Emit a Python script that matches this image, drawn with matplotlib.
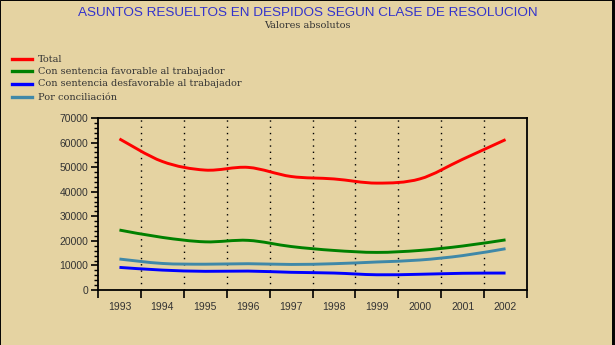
import numpy as np
import matplotlib.pyplot as plt
from matplotlib.path import Path
from matplotlib.patches import PathPatch
from matplotlib.ticker import MultipleLocator, FixedLocator, NullFormatter

# Datos (valores absolutos)
anios = ['1993', '1994', '1995', '1996', '1997', '1998', '1999', '2000', '2001', '2002']
total = [61500, 52300, 48800, 49900, 46200, 45200, 43500, 45200, 53200, 61200]
favorable = [24400, 21400, 19600, 20200, 17700, 16100, 15300, 16100, 17900, 20400]
desfavorable = [9200, 8100, 7600, 7700, 7200, 6900, 6200, 6400, 6800, 6900]
conciliacion = [12600, 10800, 10500, 10700, 10400, 10700, 11400, 12200, 14000, 16800]

series = [
    ('Total', total, '#ff0000'),
    ('Con sentencia favorable al trabajador', favorable, '#008000'),
    ('Con sentencia desfavorable al trabajador', desfavorable, '#0000ff'),
    ('Por conciliación', conciliacion, '#3f88a8'),
]

fondo = '#e5d3a2'
gris = '#333333'


def curva_suave(x, y):
    # Catmull-Rom -> bezier cubica, pasando por los puntos
    x = np.asarray(x, float)
    y = np.asarray(y, float)
    pts = np.column_stack([x, y])
    verts = [pts[0]]
    codes = [Path.MOVETO]
    for i in range(len(pts) - 1):
        p0 = pts[i - 1] if i > 0 else pts[i]
        p1 = pts[i]
        p2 = pts[i + 1]
        p3 = pts[i + 2] if i + 2 < len(pts) else pts[i + 1]
        c1 = p1 + (p2 - p0) / 6.0
        c2 = p2 - (p3 - p1) / 6.0
        verts += [c1, c2, p2]
        codes += [Path.CURVE4] * 3
    return Path(verts, codes)


fig = plt.figure(figsize=(6.15, 3.45), dpi=100, facecolor=fondo)
ax = fig.add_axes([98 / 615, 55 / 345, 429 / 615, 172 / 345])
ax.set_facecolor(fondo)

x = np.arange(1, len(anios) + 1)
for nombre, vals, color in series:
    ax.add_patch(PathPatch(curva_suave(x, vals), facecolor='none',
                           edgecolor=color, linewidth=2.1, capstyle='butt'))

ax.set_xlim(0.5, len(anios) + 0.5)
ax.set_ylim(0, 70000)

# rejilla punteada en los limites de categoria
for b in np.arange(1.5, len(anios), 1.0):
    ax.axvline(b, color='black', linestyle=(0, (1, 3.5)), linewidth=1.0, zorder=0)

ax.xaxis.set_major_locator(FixedLocator(np.arange(0.5, len(anios) + 1, 1.0)))
ax.xaxis.set_major_formatter(NullFormatter())
ax.xaxis.set_minor_locator(FixedLocator(x))
ax.set_xticklabels(anios, minor=True)
ax.tick_params(axis='x', which='major', direction='out', length=6, width=1.2, color='black')
ax.tick_params(axis='x', which='minor', length=0, pad=9, labelsize=7.5, labelcolor=gris)

ax.yaxis.set_major_locator(MultipleLocator(10000))
ax.yaxis.set_minor_locator(MultipleLocator(2000))
ax.tick_params(axis='y', which='major', direction='out', length=5, width=1.2, labelsize=7.5,
               labelcolor=gris, pad=2)
ax.tick_params(axis='y', which='minor', direction='out', length=3, width=1.0)

for lab in ax.get_xticklabels(minor=True) + ax.get_yticklabels():
    lab.set_fontfamily('Liberation Sans')

for s in ax.spines.values():
    s.set_linewidth(1.3)
    s.set_color('black')

# titulos
fig.text(0.5, 1 - 13 / 345, 'ASUNTOS RESUELTOS EN DESPIDOS SEGUN CLASE DE RESOLUCION',
         ha='center', va='center', color='#3333cc', fontsize=9.7,
         family='Liberation Sans')
fig.text(0.5, 1 - 26 / 345, 'Valores absolutos', ha='center', va='center',
         color=gris, fontsize=7, family='DejaVu Serif')

# leyenda manual
ys = [59, 71, 84, 97]
for (nombre, vals, color), yp in zip(series, ys):
    yf = 1 - yp / 345
    fig.add_artist(plt.Line2D([12 / 615, 32 / 615], [yf, yf], color=color,
                              linewidth=2.4, transform=fig.transFigure))
    fig.text(38 / 615, yf, nombre, ha='left', va='center', color=gris,
             fontsize=7.0, family='DejaVu Serif')

# marco de la figura
fig.add_artist(plt.Line2D([0.0008, 0.0008, 0.998, 0.998, 0.0008],
                          [0.0014, 0.9986, 0.9986, 0.0014, 0.0014], color='black',
                          linewidth=0.7, transform=fig.transFigure))
fig.add_artist(plt.Line2D([0.9975, 0.9975], [0, 1], color='black',
                          linewidth=1.4, transform=fig.transFigure))

fig.savefig('out.png', dpi=100, facecolor=fondo)
